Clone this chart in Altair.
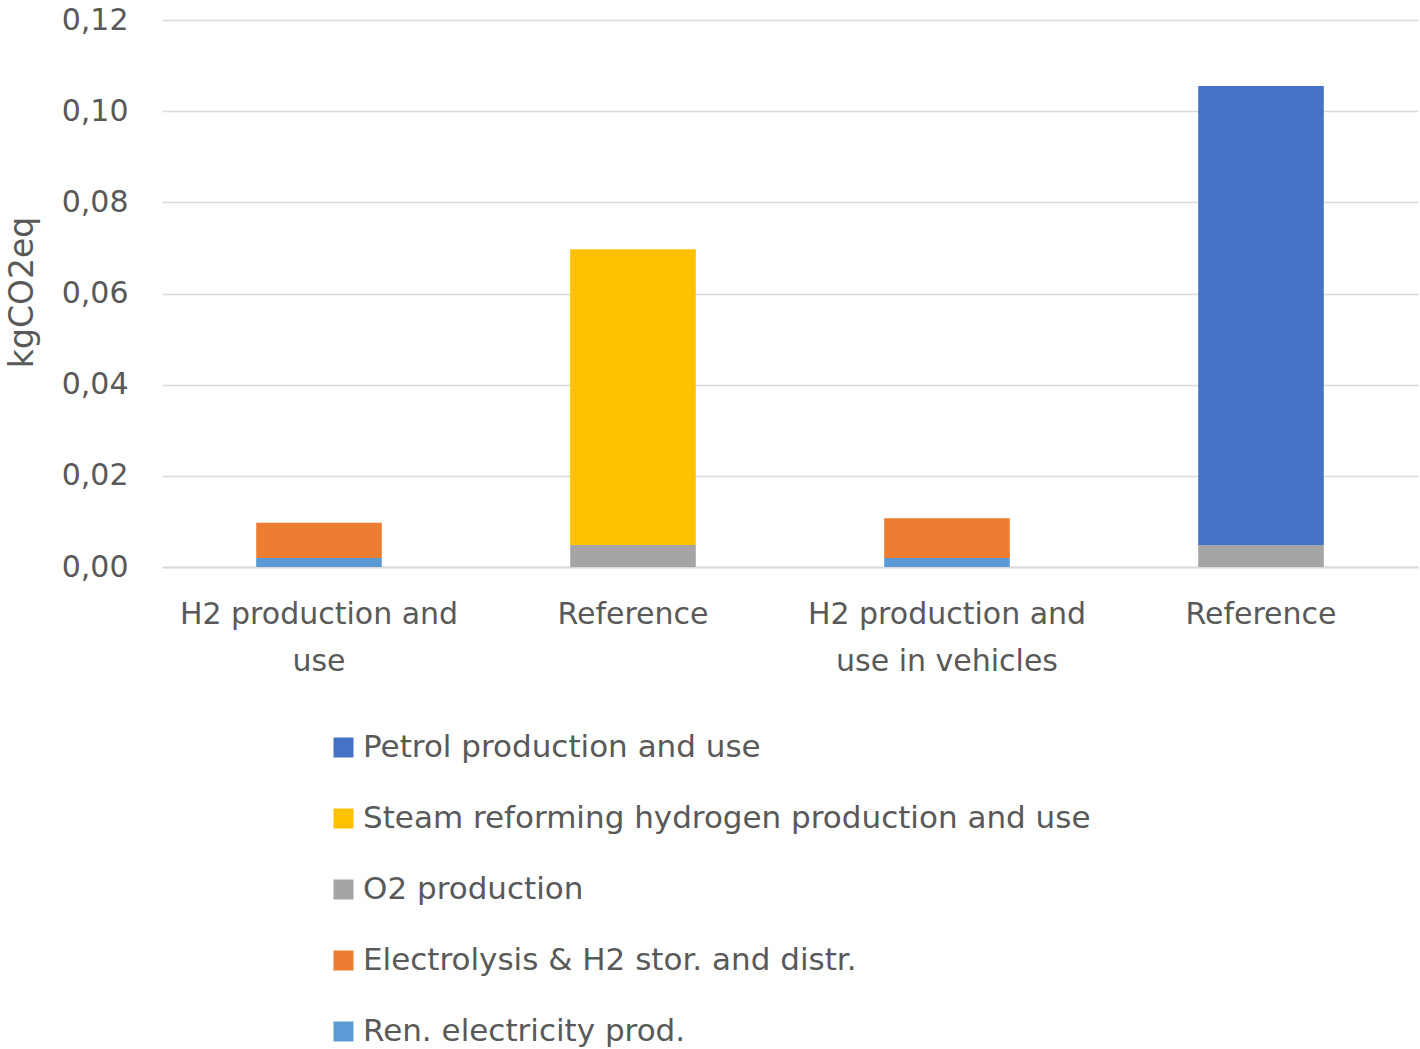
import altair as alt
import pandas as pd

x_labels = ["H2 production and|use", "Reference", "H2 production and|use in vehicles", "Reference "]
series = ["Petrol production and use", "Steam reforming hydrogen production and use",
          "O2 production", "Electrolysis & H2 stor. and distr.", "Ren. electricity prod."]
colors = ["#4472c4", "#ffc000", "#a5a5a5", "#ed7d31", "#5b9bd5"]
stack_order = [4, 3, 1, 2, 0]

petrol = [0.0, 0.0, 0.0, 0.1007]
steam = [0.0, 0.0649, 0.0, 0.0]
o2 = [0.0, 0.0048, 0.0, 0.0048]
electrolysis = [0.0077, 0.0, 0.0087, 0.0]
ren = [0.0020, 0.0, 0.0020, 0.0]

values = [petrol, steam, o2, electrolysis, ren]
rows = []
for s, vals, o in zip(series, values, stack_order):
    for c, v in zip(x_labels, vals):
        rows.append({"cat": c, "series": s, "value": v, "ord": o})
df = pd.DataFrame(rows)

FONT = "DejaVu Sans"
TXT = "#595959"

chart = alt.Chart(df).mark_bar().encode(
    x=alt.X("cat:N", sort=x_labels,
            scale=alt.Scale(paddingInner=0.6, paddingOuter=0.3),
            axis=alt.Axis(title=None, labelAngle=0, labelExpr="split(datum.label, '|')",
                          labelFontSize=30, labelColor=TXT, labelFont=FONT, labelLimit=1000,
                          labelPadding=47, labelLineHeight=47, labelBaseline="middle",
                          ticks=False, domainColor="#d9d9d9", domainWidth=2)),
    y=alt.Y("value:Q", stack="zero",
            scale=alt.Scale(domain=[0, 0.12], nice=False),
            axis=alt.Axis(title="kgCO2eq", values=[0, 0.02, 0.04, 0.06, 0.08, 0.10, 0.12],
                          labelExpr="replace(format(datum.value, '.2f'), '.', ',')",
                          labelFontSize=30, labelColor=TXT, labelFont=FONT, labelPadding=34,
                          ticks=False, domain=False, gridColor="#d9d9d9", gridWidth=1.5,
                          titleFontSize=33, titleColor=TXT, titleFont=FONT, titleFontWeight="normal",
                          titleX=-140, titleY=272, titleAngle=-90, titleBaseline="middle",
                          titleAlign="center")),
    color=alt.Color("series:N", scale=alt.Scale(domain=series, range=colors),
                    legend=alt.Legend(title=None, orient="none", legendX=166, legendY=712,
                                      direction="vertical", symbolType="square", symbolSize=400,
                                      symbolStrokeWidth=0, labelFontSize=31, labelColor=TXT,
                                      labelFont=FONT, labelOffset=4, rowPadding=39,
                                      labelLimit=1000)),
    order=alt.Order("ord:Q", sort="ascending"),
).properties(
    width=1256, height=547,
    background="white",
    autosize=alt.AutoSizeParams(type="none"),
    padding={"left": 162, "top": 20, "right": 2, "bottom": 482},
).configure_view(stroke=None)

chart.save("out.html", embed_options={"renderer": "svg", "actions": False})
